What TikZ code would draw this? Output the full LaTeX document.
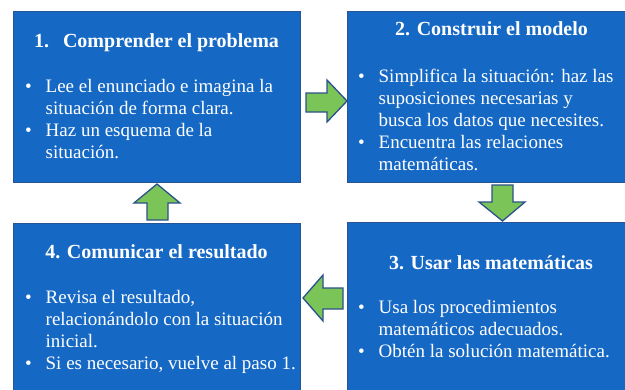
\documentclass[tikz,border=0pt]{standalone}
\usepackage{fontspec}
\setmainfont{Liberation Serif}
\definecolor{boxblue}{RGB}{21,104,196}
\definecolor{boxedge}{RGB}{40,84,150}
\definecolor{arrgreen}{RGB}{122,196,88}
\definecolor{arredge}{RGB}{44,82,140}
\newcommand{\bul}{\makebox[20.5pt][l]{•}}
\newcommand{\cnt}{\hspace*{20.5pt}}
\newcommand{\firstln}{\rule{0pt}{15pt}}
\begin{document}
\begin{tikzpicture}[x=1pt,y=-1pt,
  box/.style={fill=boxblue,draw=boxedge,line width=1pt,anchor=north west,inner sep=0pt},
  ttl/.style={text=white,font=\fontsize{20}{22}\selectfont\bfseries,anchor=base,inner sep=0pt},
  txt/.style={text=white,font=\fontsize{19}{22}\selectfont,align=left,anchor=north west,inner sep=0pt},
  blk/.style={fill=arrgreen,draw=arredge,line width=1.3pt,line join=miter}]
\useasboundingbox (0,0) rectangle (625,389);
\clip (0,0) rectangle (625,389);
\fill[white] (0,0) rectangle (625,389);
% boxes
\node[box,minimum width=287pt,minimum height=171pt] (b1) at (13,11) {};
\node[box,minimum width=293pt,minimum height=171pt] (b2) at (347,11) {};
\node[box,minimum width=293pt,minimum height=180pt] (b3) at (347,222) {};
\node[box,minimum width=287pt,minimum height=180pt] (b4) at (13,223) {};
% titles
\node[ttl] (t1) at (156.5,47) {1.\hspace{14pt}Comprender el problema};
\node[ttl] (t2) at (491.5,35) {2. Construir el modelo};
\node[ttl] (t3) at (491,269) {3. Usar las matemáticas};
\node[ttl] (t4) at (156.5,258) {4. Comunicar el resultado};
% bullet texts
\node[txt] (c1) at (25,77.5) {\firstln\bul Lee el enunciado e imagina la\\
\cnt situación de forma clara.\\
\bul Haz un esquema de la\\
\cnt situación.};
\node[txt] (c2) at (358,67) {\firstln\bul Simplifica la situación: haz las\\
\cnt suposiciones necesarias y\\
\cnt busca los datos que necesites.\\
\bul Encuentra las relaciones\\
\cnt matemáticas.};
\node[txt] (c3) at (358,298) {\firstln\bul Usa los procedimientos\\
\cnt matemáticos adecuados.\\
\bul Obtén la solución matemática.};
\node[txt] (c4) at (25,288) {\firstln\bul Revisa el resultado,\\
\cnt relacionándolo con la situación\\
\cnt inicial.\\
\bul Si es necesario, vuelve al paso 1.};
% block arrows
\draw[blk] (306,93) -- (327,93) -- (327,80) -- (347,101) -- (327,122) -- (327,112) -- (306,112) -- cycle;
\draw[blk] (492,185) -- (513,185) -- (513,202) -- (525,202) -- (502.5,221) -- (479,202) -- (492,202) -- cycle;
\draw[blk] (343,288) -- (323,288) -- (323,275) -- (303,298) -- (323,321) -- (323,309) -- (343,309) -- cycle;
\draw[blk] (147,220) -- (147,203) -- (134,203) -- (157,184) -- (180,203) -- (168,203) -- (168,220) -- cycle;
\end{tikzpicture}
\end{document}
